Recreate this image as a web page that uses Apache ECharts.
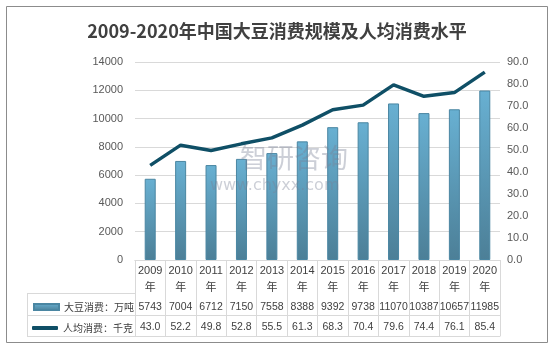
<!DOCTYPE html>
<html>
<head>
<meta charset="utf-8">
<script src="https://cdn.jsdelivr.net/npm/echarts@6/dist/echarts.min.js"></script>
<style>
  html, body { margin: 0; padding: 0; background: #fff; }
  #chart { width: 554px; height: 348px; }
</style>
</head>
<body>
<div id="chart"></div>
<script>
// Soybean consumption in China, 2009-2020
const years = ['2009', '2010', '2011', '2012', '2013', '2014', '2015', '2016', '2017', '2018', '2019', '2020'];
const totalConsumption = [5743, 7004, 6712, 7150, 7558, 8388, 9392, 9738, 11070, 10387, 10657, 11985]; // 万吨
const perCapita = [43.0, 52.2, 49.8, 52.8, 55.5, 61.3, 68.3, 70.4, 79.6, 74.4, 76.1, 85.4];               // 千克
const leftTicks = { min: 0, max: 14000, step: 2000 };
const rightTicks = { min: 0, max: 90, step: 10 };
const barName = '大豆消费：万吨';
const lineName = '人均消费：千克';
const titleText = '2009-2020年中国大豆消费规模及人均消费水平';

const chart = echarts.init(document.getElementById('chart'), null, { renderer: 'canvas' });

const gridLine = '#d9d9d9';
const textColor = '#404040';
const numFont = 'Liberation Sans';
const cjkFont = 'Noto Sans CJK SC';

// table rows underneath the plot are extra category axes pushed down with offset
function tableAxis(offset, labels, showLabel, margin) {
  return {
    type: 'category',
    data: years,
    position: 'bottom',
    offset: offset,
    gridIndex: 0,
    axisLine: { show: true, lineStyle: { color: gridLine, width: 1 } },
    axisTick: { show: false },
    axisLabel: {
      show: showLabel,
      interval: 0,
      margin: margin,
      color: textColor,
      fontSize: 10.5,
      fontFamily: numFont,
      formatter: (v, i) => labels ? String(labels[i]) : ''
    },
    splitLine: { show: false }
  };
}

const option = {
  backgroundColor: '#ffffff',
  animation: false,
  title: {
    text: titleText,
    left: 'center',
    top: 17,
    textStyle: { color: textColor, fontSize: 18, fontWeight: 'bold', fontFamily: cjkFont }
  },
  grid: { left: 135, right: 54, top: 62, bottom: 88, containLabel: false },
  legend: [
    {
      data: [{ name: barName, icon: 'rect' }],
      left: 28, top: 297,
      itemWidth: 25, itemHeight: 6, itemGap: 0,
      textStyle: { color: textColor, fontSize: 10, fontFamily: cjkFont },
      selectedMode: false
    },
    {
      data: [{ name: lineName, icon: 'roundRect' }],
      left: 27, top: 318,
      itemWidth: 26, itemHeight: 4, itemGap: 0,
      textStyle: { color: textColor, fontSize: 10, fontFamily: cjkFont },
      selectedMode: false
    }
  ],
  xAxis: [
    {
      type: 'category',
      data: years,
      position: 'bottom',
      axisLine: { show: true, lineStyle: { color: gridLine, width: 1 } },
      axisTick: { show: true, alignWithLabel: false, length: 76, lineStyle: { color: gridLine } },
      axisLabel: {
        interval: 0,
        margin: 3,
        color: textColor,
        fontSize: 11,
        lineHeight: 16,
        fontFamily: numFont,
        formatter: v => v + '\n{c|年}',
        rich: { c: { fontFamily: cjkFont, fontSize: 11, color: textColor, lineHeight: 16 } }
      }
    },
    tableAxis(33, totalConsumption, true, 9),
    tableAxis(55, perCapita.map(v => v.toFixed(1)), true, 7),
    tableAxis(76, null, false, 0)
  ],
  yAxis: [
    {
      type: 'value',
      min: leftTicks.min, max: leftTicks.max, interval: leftTicks.step,
      axisLine: { show: false }, axisTick: { show: false },
      axisLabel: { color: '#595959', fontSize: 11, fontFamily: numFont, margin: 12, formatter: v => String(v) },
      splitLine: { show: true, lineStyle: { color: gridLine, width: 1 } }
    },
    {
      type: 'value',
      position: 'right',
      min: rightTicks.min, max: rightTicks.max, interval: rightTicks.step,
      axisLine: { show: false }, axisTick: { show: false },
      axisLabel: { color: '#595959', fontSize: 11, fontFamily: numFont, margin: 7, formatter: v => v.toFixed(1) },
      splitLine: { show: false }
    }
  ],
  series: [
    {
      name: barName,
      type: 'bar',
      xAxisIndex: 0, yAxisIndex: 0,
      data: totalConsumption,
      barWidth: 11,
      itemStyle: {
        color: new echarts.graphic.LinearGradient(0, 0, 0, 1, [
          { offset: 0, color: '#68b0d2' },
          { offset: 1, color: '#4c7f97' }
        ]),
        borderColor: '#4a86a2',
        borderWidth: 1
      },
      z: 2
    },
    {
      name: lineName,
      type: 'line',
      xAxisIndex: 0, yAxisIndex: 1,
      data: perCapita,
      symbol: 'none',
      lineStyle: { color: '#0f4f66', width: 3.5 },
      itemStyle: { color: '#0f4f66' },
      z: 5
    }
  ],
  graphic: [
    // outer frame
    { type: 'rect', shape: { x: 6.5, y: 6.5, width: 541, height: 336 }, style: { fill: null, stroke: '#8c8c8c', lineWidth: 1 }, silent: true, z: 0 },
    // legend column of the data table
    { type: 'line', shape: { x1: 27, y1: 293.5, x2: 135, y2: 293.5 }, style: { stroke: gridLine, lineWidth: 1 }, silent: true },
    { type: 'line', shape: { x1: 27, y1: 315.5, x2: 135, y2: 315.5 }, style: { stroke: gridLine, lineWidth: 1 }, silent: true },
    { type: 'line', shape: { x1: 27, y1: 336.5, x2: 135, y2: 336.5 }, style: { stroke: gridLine, lineWidth: 1 }, silent: true },
    { type: 'line', shape: { x1: 27.5, y1: 293, x2: 27.5, y2: 337 }, style: { stroke: gridLine, lineWidth: 1 }, silent: true },
    // site mark
    { type: 'text', left: 240, top: 144, style: { text: '智研咨询', fill: 'rgba(120,130,150,0.38)', font: '27px "Noto Sans CJK SC"' }, silent: true, z: 10 },
    { type: 'text', left: 210, top: 178, style: { text: 'www.chyxx.com', fill: 'rgba(120,130,150,0.38)', font: '16px "DejaVu Sans"' }, silent: true, z: 10 }
  ]
};

chart.setOption(option);
</script>
</body>
</html>
